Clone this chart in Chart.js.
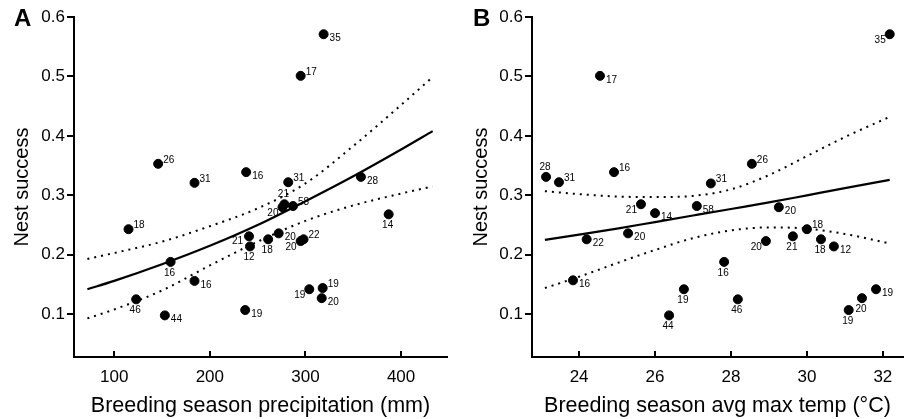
<!DOCTYPE html>
<html>
<head>
<meta charset="utf-8">
<script src="https://cdn.jsdelivr.net/npm/chart.js@4.4.1/dist/chart.umd.min.js"></script>
<style>
  html, body { margin: 0; padding: 0; background: #fff; }
  #wrap { display: flex; width: 918px; height: 419px; }
  .panel { position: relative; width: 459px; height: 419px; }
</style>
</head>
<body>
<div id="wrap">
  <div class="panel"><canvas id="chartA"></canvas></div>
  <div class="panel"><canvas id="chartB"></canvas></div>
</div>
<script>
// Panel A: precipitation vs nest success
const precipA  = [146, 184, 319, 295, 238, 282, 358, 278, 276, 287, 387, 241, 242, 261, 272, 295, 298, 304, 318, 317, 237, 115, 159, 184, 123, 153];
const successA = [0.353, 0.321, 0.571, 0.501, 0.339, 0.322, 0.331, 0.285, 0.280, 0.282, 0.268, 0.231, 0.214, 0.226, 0.236, 0.223, 0.226, 0.142, 0.144, 0.127, 0.107, 0.243, 0.188, 0.156, 0.125, 0.098];
const nA       = [26, 31, 35, 17, 16, 31, 28, 21, 20, 58, 14, 21, 12, 18, 20, 20, 22, 19, 19, 20, 19, 18, 16, 16, 46, 44];
const labelPosA = ['ur','ur','r','ur','r','ur','r','u','bl','ur','b','l','b','b','r','bl','ur','bl','ur','r','r','ur','b','r','b','r'];

const fitXA  = [72, 100, 150, 200, 250, 300, 350, 400, 433];
const fitA   = [0.142, 0.156, 0.184, 0.215, 0.250, 0.290, 0.332, 0.377, 0.408];
const upperA = [0.193, 0.203, 0.222, 0.248, 0.278, 0.320, 0.383, 0.452, 0.499];
const lowerA = [0.093, 0.108, 0.140, 0.182, 0.222, 0.257, 0.283, 0.303, 0.315];
const xTicksA = [100, 200, 300, 400];

// Panel B: avg max temp vs nest success
const tempB    = [32.18, 24.55, 23.13, 23.47, 24.92, 27.47, 28.55, 27.10, 25.63, 26.00, 24.20, 25.29, 23.84, 26.37, 26.76, 29.26, 30.00, 28.92, 29.63, 30.37, 30.71, 27.82, 28.18, 31.10, 31.45, 31.82];
const successB = [0.571, 0.501, 0.331, 0.322, 0.339, 0.320, 0.353, 0.282, 0.285, 0.270, 0.226, 0.236, 0.157, 0.098, 0.142, 0.280, 0.243, 0.223, 0.231, 0.226, 0.214, 0.188, 0.125, 0.107, 0.127, 0.142];
const nB       = [35, 17, 28, 31, 16, 31, 26, 58, 21, 14, 22, 20, 16, 44, 19, 20, 18, 20, 21, 18, 12, 16, 46, 19, 20, 19];
const labelPosB = ['bl','r','u','ur','ur','ur','ur','r','bl','r','r','r','r','b','b','r','ur','bl','b','b','r','b','b','b','b','r'];

const fitXB  = [23.1, 24, 25, 26, 27, 28, 29, 30, 31, 32.18];
const fitB   = [0.225, 0.234, 0.244, 0.255, 0.266, 0.277, 0.288, 0.300, 0.312, 0.326];
const upperB = [0.307, 0.302, 0.298, 0.297, 0.299, 0.310, 0.334, 0.366, 0.398, 0.432];
const lowerB = [0.144, 0.163, 0.186, 0.208, 0.228, 0.241, 0.246, 0.244, 0.235, 0.219];
const xTicksB = [24, 26, 28, 30, 32];

const yTicks = [0.1, 0.2, 0.3, 0.4, 0.5, 0.6];

const FONT = '"Liberation Sans", Arial, sans-serif';
Chart.defaults.font.family = FONT;
Chart.defaults.color = '#000';

function pts(xs, ys) { return xs.map((x, i) => ({x: x, y: ys[i]})); }

// n labels next to the dots, inward x ticks, panel letter
const annotate = {
  id: 'annotate',
  afterDatasetsDraw(chart, args, opts) {
    const ctx = chart.ctx;
    const meta = chart.getDatasetMeta(0);
    ctx.save();
    ctx.fillStyle = '#000';
    ctx.font = '10px ' + FONT;
    meta.data.forEach((el, i) => {
      const x = el.x, y = el.y, t = String(opts.n[i]);
      switch (opts.pos[i]) {
        case 'r':  ctx.textAlign = 'left';   ctx.textBaseline = 'middle'; ctx.fillText(t, x + 6, y + 4); break;
        case 'ur': ctx.textAlign = 'left';   ctx.textBaseline = 'middle'; ctx.fillText(t, x + 5, y - 4); break;
        case 'b':  ctx.textAlign = 'center'; ctx.textBaseline = 'top';    ctx.fillText(t, x - 1, y + 6); break;
        case 'bl': ctx.textAlign = 'right';  ctx.textBaseline = 'top';    ctx.fillText(t, x - 4, y + 1); break;
        case 'u':  ctx.textAlign = 'center'; ctx.textBaseline = 'bottom'; ctx.fillText(t, x - 1, y - 5); break;
        case 'l':  ctx.textAlign = 'right';  ctx.textBaseline = 'middle'; ctx.fillText(t, x - 6, y + 5); break;
      }
    });
    // x ticks pointing up into the plot
    const xs = chart.scales.x;
    ctx.strokeStyle = '#000';
    ctx.lineWidth = 2;
    xs.ticks.forEach(tk => {
      const px = Math.round(xs.getPixelForValue(tk.value));
      ctx.beginPath();
      ctx.moveTo(px, xs.top);
      ctx.lineTo(px, xs.top - 6);
      ctx.stroke();
    });
    // panel letter
    ctx.font = 'bold 24px ' + FONT;
    ctx.textAlign = 'left';
    ctx.textBaseline = 'alphabetic';
    ctx.fillText(opts.letter, 14, 26);
    ctx.restore();
  }
};

function makeChart(id, cfg) {
  return new Chart(document.getElementById(id), {
    type: 'scatter',
    data: {
      datasets: [
        { data: pts(cfg.xs, cfg.ys), backgroundColor: '#000', borderColor: '#000', pointRadius: 4.5, pointHoverRadius: 4.5 },
        { type: 'line', data: pts(cfg.fitX, cfg.fit), borderColor: '#000', borderWidth: 2.2, pointRadius: 0, cubicInterpolationMode: 'monotone', fill: false },
        { type: 'line', data: pts(cfg.fitX, cfg.upper), borderColor: '#000', borderWidth: 2, borderDash: [2, 5], pointRadius: 0, cubicInterpolationMode: 'monotone', fill: false },
        { type: 'line', data: pts(cfg.fitX, cfg.lower), borderColor: '#000', borderWidth: 2, borderDash: [2, 5], pointRadius: 0, cubicInterpolationMode: 'monotone', fill: false }
      ]
    },
    options: {
      responsive: true,
      maintainAspectRatio: false,
      animation: false,
      layout: { padding: { top: 17, right: cfg.padRight, left: 0, bottom: 0 } },
      plugins: {
        legend: { display: false },
        tooltip: { enabled: false },
        annotate: { n: cfg.n, pos: cfg.pos, letter: cfg.letter }
      },
      scales: {
        x: {
          type: 'linear',
          min: cfg.xMin, max: cfg.xMax,
          afterBuildTicks: s => { s.ticks = cfg.xTicks.map(v => ({value: v})); },
          afterFit: s => { s.height = 62; },
          grid: { display: false },
          border: { display: true, color: '#000', width: 2 },
          ticks: { font: { size: 17 }, padding: 2, maxRotation: 0 },
          title: { display: true, text: cfg.xTitle, font: { size: 21.5 }, padding: { top: 0, bottom: 0 } }
        },
        y: {
          min: 0.028, max: 0.6,
          afterBuildTicks: s => { s.ticks = yTicks.map(v => ({value: v})); },
          afterFit: s => { s.width = cfg.yWidth; },
          grid: { display: true, drawOnChartArea: false, drawTicks: true, tickLength: 7, color: '#000', lineWidth: 2 },
          border: { display: true, color: '#000', width: 2 },
          ticks: { font: { size: 17 }, padding: 2, callback: v => v.toFixed(1) },
          title: { display: true, text: 'Nest success', font: { size: 20 }, padding: { top: 10, bottom: 0 } }
        }
      }
    },
    plugins: [annotate]
  });
}

makeChart('chartA', {
  xs: precipA, ys: successA, n: nA, pos: labelPosA, letter: 'A',
  fitX: fitXA, fit: fitA, upper: upperA, lower: lowerA,
  xMin: 58, xMax: 448, xTicks: xTicksA,
  xTitle: 'Breeding season precipitation (mm)',
  yWidth: 74, padRight: 12
});

makeChart('chartB', {
  xs: tempB, ys: successB, n: nB, pos: labelPosB, letter: 'B',
  fitX: fitXB, fit: fitB, upper: upperB, lower: lowerB,
  xMin: 22.76, xMax: 32.53, xTicks: xTicksB,
  xTitle: 'Breeding season avg max temp (°C)',
  yWidth: 73, padRight: 15
});
</script>
</body>
</html>
